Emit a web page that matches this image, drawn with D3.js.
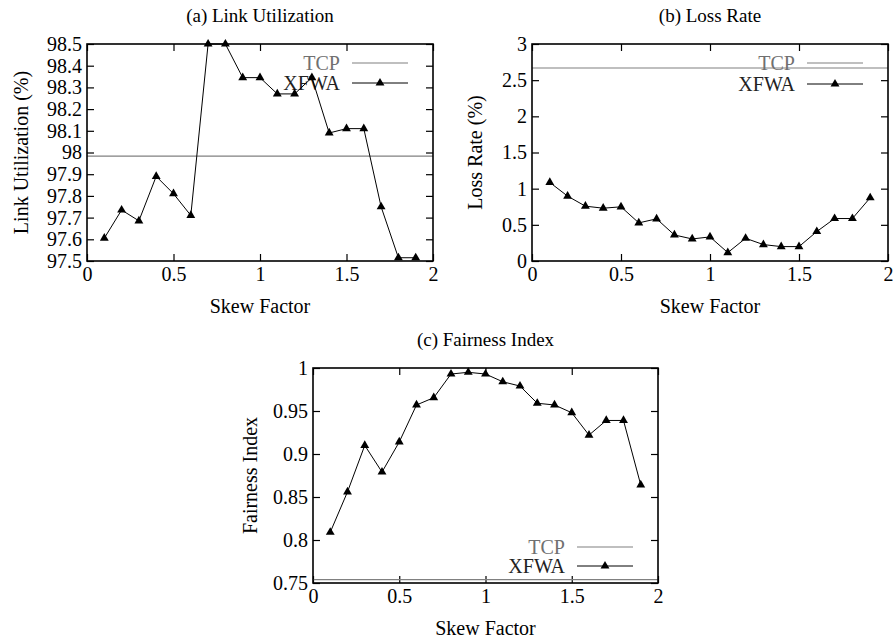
<!DOCTYPE html>
<html>
<head>
<meta charset="utf-8">
<script src="https://cdn.jsdelivr.net/npm/d3@7"></script>
<style>
  body { margin: 0; background: #fff; }
  svg text { font-family: "Liberation Serif", "Times New Roman", serif; }
</style>
</head>
<body>
<div id="chart"></div>
<script>
// skew factor values shared by all three panels
const skew = [0.1, 0.2, 0.3, 0.4, 0.5, 0.6, 0.7, 0.8, 0.9, 1.0, 1.1, 1.2, 1.3, 1.4, 1.5, 1.6, 1.7, 1.8, 1.9];
const xTicks = [0, 0.5, 1, 1.5, 2];

// (a) Link Utilization
const utilXFWA = [97.605, 97.735, 97.685, 97.89, 97.81, 97.71, 98.5, 98.5, 98.345, 98.345,
                  98.27, 98.27, 98.345, 98.09, 98.11, 98.11, 97.75, 97.515, 97.515];
const utilTCP = 97.983;
const utilTicks = [97.5, 97.6, 97.7, 97.8, 97.9, 98, 98.1, 98.2, 98.3, 98.4, 98.5];

// (b) Loss Rate
const lossXFWA = [1.086, 0.897, 0.758, 0.73, 0.749, 0.527, 0.583, 0.36, 0.305, 0.333,
                  0.116, 0.314, 0.227, 0.199, 0.199, 0.407, 0.587, 0.587, 0.874];
const lossTCP = 2.668;
const lossTicks = [0, 0.5, 1, 1.5, 2, 2.5, 3];

// (c) Fairness Index
const fairXFWA = [0.809, 0.856, 0.910, 0.879, 0.914, 0.957, 0.9655, 0.993, 0.995, 0.993,
                  0.984, 0.979, 0.959, 0.957, 0.948, 0.922, 0.939, 0.939, 0.864];
const fairTCP = 0.754;
const fairTicks = [0.75, 0.8, 0.85, 0.9, 0.95, 1];

const W = 893, H = 642;
const svg = d3.select("#chart").append("svg")
  .attr("width", W)
  .attr("height", H);

const fmt = d3.format("~g");
const tick = 7;

function panel(o){
  const x = d3.scaleLinear().domain([0, 2]).range([o.left, o.right]);
  const y = d3.scaleLinear().domain(o.yDomain).range([o.bottom, o.top]);
  const g = svg.append("g");

  // axes with labels (ticks drawn inward, gnuplot style)
  g.append("g")
    .attr("transform", `translate(${o.left},0)`)
    .call(d3.axisLeft(y).tickValues(o.yTicks).tickFormat(fmt).tickSize(-tick).tickPadding(5))
    .call(a => a.select(".domain").remove());
  g.append("g")
    .attr("transform", `translate(${o.right},0)`)
    .call(d3.axisRight(y).tickValues(o.yTicks).tickFormat("").tickSize(-tick))
    .call(a => a.select(".domain").remove());
  g.append("g")
    .attr("transform", `translate(0,${o.bottom})`)
    .call(d3.axisBottom(x).tickValues(xTicks).tickFormat(fmt).tickSize(-tick).tickPadding(6))
    .call(a => a.select(".domain").remove());
  g.append("g")
    .attr("transform", `translate(0,${o.top})`)
    .call(d3.axisTop(x).tickValues(xTicks).tickFormat("").tickSize(-tick))
    .call(a => a.select(".domain").remove());

  g.selectAll(".tick line").attr("stroke", "#000").attr("stroke-width", 1.2);
  g.selectAll(".tick text")
    .style("font-family", '"Liberation Serif", serif')
    .style("font-size", "20px")
    .attr("fill", "#000");

  // TCP baseline
  g.append("line")
    .attr("x1", o.left).attr("x2", o.right)
    .attr("y1", y(o.tcp)).attr("y2", y(o.tcp))
    .attr("stroke", "#808080").attr("stroke-width", 1.2);

  // legend
  const lx2 = o.right - 25, lx1 = lx2 - 56, tx = lx1 - 12;
  const rows = [{name: "TCP", y: o.legY[0], color: "#707070"}, {name: "XFWA", y: o.legY[1], color: "#222"}];
  g.selectAll(".legText").data(rows).enter().append("text")
    .attr("x", tx).attr("y", d => d.y)
    .attr("dy", "0.35em")
    .attr("text-anchor", "end")
    .style("font-size", "20px")
    .attr("fill", d => d.color)
    .text(d => d.name);
  g.append("line")
    .attr("x1", lx1).attr("x2", lx2).attr("y1", o.legY[0]).attr("y2", o.legY[0])
    .attr("stroke", "#808080").attr("stroke-width", 1.2);
  g.append("line")
    .attr("x1", lx1).attr("x2", lx2).attr("y1", o.legY[1]).attr("y2", o.legY[1])
    .attr("stroke", "#000").attr("stroke-width", 1);
  g.append("path")
    .attr("d", d3.symbol(d3.symbolTriangle, 34)())
    .attr("transform", `translate(${(lx1 + lx2) / 2},${o.legY[1]})`)
    .attr("fill", "#000");

  // XFWA series
  const line = d3.line().x((d, i) => x(skew[i])).y(d => y(d));
  g.append("path")
    .datum(o.values)
    .attr("d", line)
    .attr("fill", "none")
    .attr("stroke", "#000")
    .attr("stroke-width", 1);
  g.selectAll(".pt").data(o.values).enter().append("path")
    .attr("d", d3.symbol(d3.symbolTriangle, 34)())
    .attr("transform", (d, i) => `translate(${x(skew[i])},${y(d)})`)
    .attr("fill", "#000");

  // frame
  g.append("rect")
    .attr("x", o.left).attr("y", o.top)
    .attr("width", o.right - o.left).attr("height", o.bottom - o.top)
    .attr("fill", "none").attr("stroke", "#000").attr("stroke-width", 1.6);

  // titles
  g.append("text")
    .attr("x", (o.left + o.right) / 2).attr("y", o.top - 22)
    .attr("text-anchor", "middle")
    .style("font-size", "19px")
    .text(o.title);
  g.append("text")
    .attr("x", (o.left + o.right) / 2).attr("y", o.bottom + 52)
    .attr("text-anchor", "middle")
    .style("font-size", "20px")
    .text("Skew Factor");
  g.append("text")
    .attr("transform", `translate(${o.yLabelX},${(o.top + o.bottom) / 2}) rotate(-90)`)
    .attr("text-anchor", "middle")
    .attr("dy", "0.35em")
    .style("font-size", "20px")
    .text(o.yLabel);
}

panel({
  left: 87, right: 433, top: 44, bottom: 261,
  yDomain: [97.5, 98.5], yTicks: utilTicks,
  values: utilXFWA, tcp: utilTCP,
  legY: [63, 83],
  title: "(a) Link Utilization", yLabel: "Link Utilization (%)", yLabelX: 21
});

panel({
  left: 532, right: 888, top: 44, bottom: 261,
  yDomain: [0, 3], yTicks: lossTicks,
  values: lossXFWA, tcp: lossTCP,
  legY: [63, 84],
  title: "(b) Loss Rate", yLabel: "Loss Rate (%)", yLabelX: 475
});

panel({
  left: 313, right: 658, top: 368, bottom: 583,
  yDomain: [0.75, 1], yTicks: fairTicks,
  values: fairXFWA, tcp: fairTCP,
  legY: [547, 566],
  title: "(c) Fairness Index", yLabel: "Fairness Index", yLabelX: 250
});
</script>
</body>
</html>
